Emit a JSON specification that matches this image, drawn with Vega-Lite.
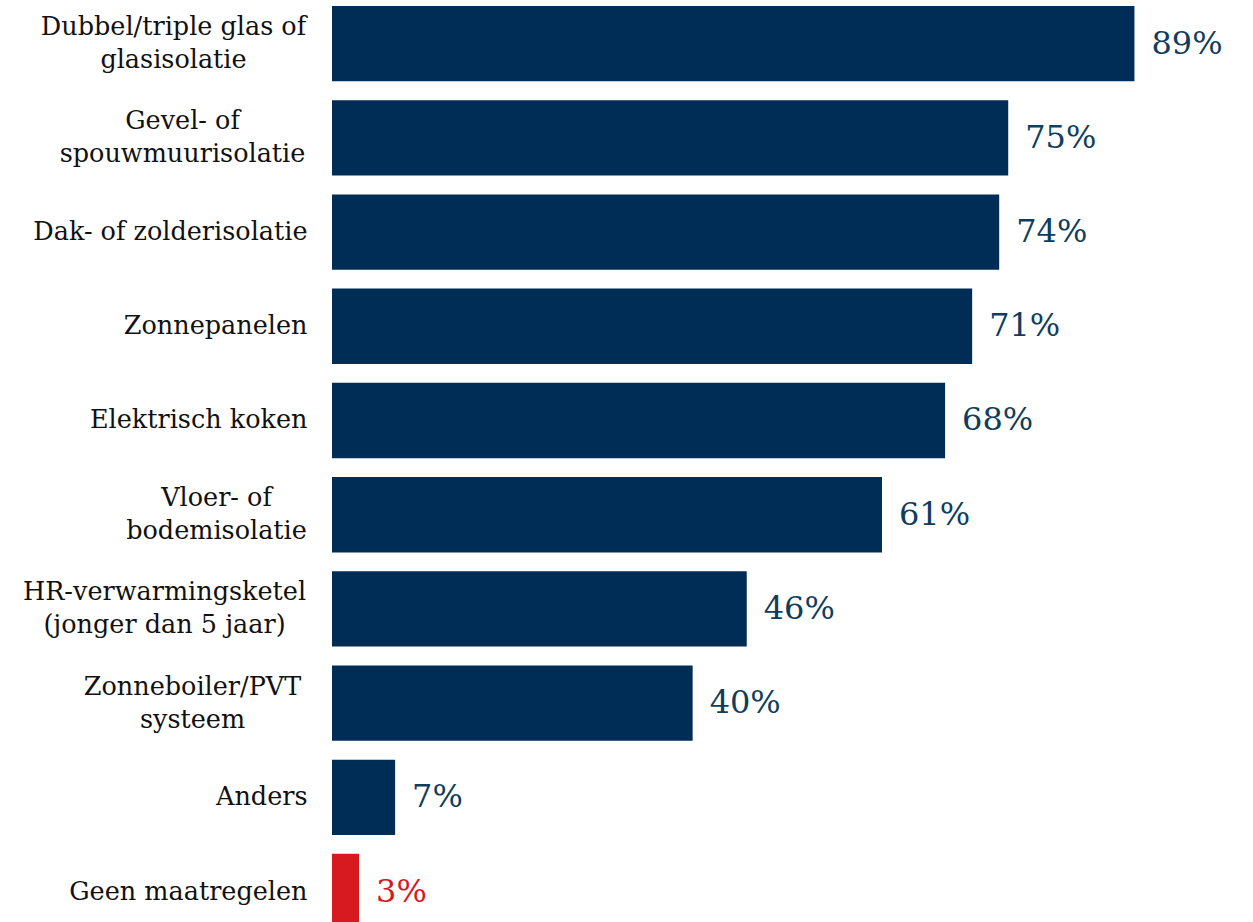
{
  "$schema": "https://vega.github.io/schema/vega-lite/v6.json",
  "autosize": "none",
  "padding": {"left": 332, "top": 0, "right": 0, "bottom": 0},
  "width": 921,
  "height": 922,
  "background": "white",
  "config": {"view": {"stroke": null}},
  "data": {
    "values": [
      {"maatregel": "Dubbel/triple glas of|glasisolatie", "aandeel": 0.89, "groep": "maatregel"},
      {"maatregel": "Gevel- of|spouwmuurisolatie", "aandeel": 0.75, "groep": "maatregel"},
      {"maatregel": "Dak- of zolderisolatie", "aandeel": 0.74, "groep": "maatregel"},
      {"maatregel": "Zonnepanelen", "aandeel": 0.71, "groep": "maatregel"},
      {"maatregel": "Elektrisch koken", "aandeel": 0.68, "groep": "maatregel"},
      {"maatregel": "Vloer- of|bodemisolatie", "aandeel": 0.61, "groep": "maatregel"},
      {"maatregel": "HR-verwarmingsketel|(jonger dan 5 jaar)", "aandeel": 0.46, "groep": "maatregel"},
      {"maatregel": "Zonneboiler/PVT|systeem", "aandeel": 0.40, "groep": "maatregel"},
      {"maatregel": "Anders", "aandeel": 0.07, "groep": "maatregel"},
      {"maatregel": "Geen maatregelen", "aandeel": 0.03, "groep": "geen"}
    ]
  },
  "encoding": {
    "y": {
      "field": "maatregel",
      "type": "nominal",
      "sort": null,
      "scale": {"range": [6, 929.2], "paddingInner": 0.2, "paddingOuter": 0},
      "axis": {
        "title": null,
        "domain": false,
        "ticks": false,
        "tickSize": 0,
        "labelExpr": "split(datum.value, '|')",
        "labelFont": "DejaVu Serif",
        "labelFontSize": 25.5,
        "labelColor": "#111111",
        "labelLineHeight": 33,
        "labelLimit": 400,
        "labelAlign": {"condition": {"test": "indexof(datum.value, '|') >= 0", "value": "center"}, "value": "right"},
        "labelOffset": {"condition": {"test": "indexof(datum.value, '|') >= 0", "value": -16.5}, "value": 0},
        "labelPadding": {
          "condition": [
            {"test": "datum.value == 'Dubbel/triple glas of|glasisolatie'", "value": 159},
            {"test": "datum.value == 'Gevel- of|spouwmuurisolatie'", "value": 150},
            {"test": "datum.value == 'Vloer- of|bodemisolatie'", "value": 116},
            {"test": "datum.value == 'HR-verwarmingsketel|(jonger dan 5 jaar)'", "value": 168},
            {"test": "datum.value == 'Zonneboiler/PVT|systeem'", "value": 140}
          ],
          "value": 25
        }
      }
    },
    "x": {
      "field": "aandeel",
      "type": "quantitative",
      "scale": {"domain": [0, 1.0215], "nice": false},
      "axis": null
    }
  },
  "layer": [
    {
      "mark": {"type": "bar"},
      "encoding": {
        "color": {
          "field": "groep",
          "type": "nominal",
          "scale": {"domain": ["maatregel", "geen"], "range": ["#002d55", "#d71920"]},
          "legend": null
        }
      }
    },
    {
      "mark": {"type": "text", "align": "left", "baseline": "middle", "dx": 17, "font": "DejaVu Serif", "fontSize": 32},
      "encoding": {
        "text": {"field": "aandeel", "type": "quantitative", "format": ".0%"},
        "color": {
          "field": "groep",
          "type": "nominal",
          "scale": {"domain": ["maatregel", "geen"], "range": ["#103d5c", "#d71920"]},
          "legend": null
        }
      }
    }
  ],
  "resolve": {"scale": {"color": "independent"}}
}
